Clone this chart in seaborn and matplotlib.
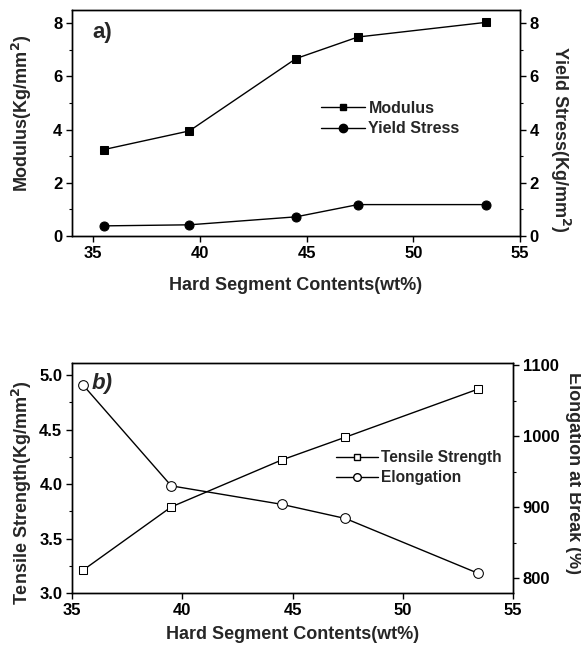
import matplotlib
matplotlib.use("Agg")
import matplotlib.pyplot as plt
import seaborn as sns
import pandas as pd
from matplotlib.ticker import MultipleLocator, FormatStrFormatter
from matplotlib.lines import Line2D

sns.set_theme(style="ticks")
plt.rcParams['font.family'] = ['Liberation Sans', 'DejaVu Sans']
plt.rcParams['font.weight'] = 'bold'
plt.rcParams['axes.labelweight'] = 'bold'

hard_segment = [35.5, 39.5, 44.5, 47.4, 53.4]
modulus = [3.25, 3.95, 6.67, 7.48, 8.03]
yield_stress = [0.38, 0.42, 0.72, 1.18, 1.18]
tensile = [3.21, 3.79, 4.22, 4.43, 4.87]
elongation = [1072, 930, 904, 884, 807]

df = pd.DataFrame({"x": hard_segment, "modulus": modulus, "yield": yield_stress,
                   "tensile": tensile, "elong": elongation})

fig = plt.figure(figsize=(5.81, 6.46), dpi=100)
ax1 = fig.add_axes([0.124, 0.6347, 0.771, 0.350])
ax1r = ax1.twinx()
ax2 = fig.add_axes([0.124, 0.082, 0.759, 0.356])
ax2r = ax2.twinx()

lw = 1.0
tfs = 12
lfs = 13

def style(ax):
    for s in ax.spines.values():
        s.set_visible(True)
        s.set_color('black')
        s.set_linewidth(1.0)
    ax.tick_params(axis='both', which='major', direction='out', length=4, width=1,
                   labelsize=tfs, colors='black', pad=3)
    ax.tick_params(axis='both', which='minor', direction='out', length=2, width=0.8,
                   colors='black')
    for lab in ax.get_xticklabels() + ax.get_yticklabels():
        lab.set_fontweight('bold')

# Panel a
sns.lineplot(data=df, x="x", y="modulus", ax=ax1, color='black', lw=lw,
             marker='s', markersize=6, markeredgecolor='black', markerfacecolor='black')
sns.lineplot(data=df, x="x", y="yield", ax=ax1r, color='black', lw=lw,
             marker='o', markersize=6.5, markeredgecolor='black', markerfacecolor='black')
ax1.set_xlim(34, 55)
ax1.set_ylim(0, 8.5)
ax1r.set_ylim(0, 8.5)
ax1.xaxis.set_major_locator(MultipleLocator(5))
ax1.yaxis.set_major_locator(MultipleLocator(2))
ax1.yaxis.set_minor_locator(MultipleLocator(1))
ax1r.yaxis.set_major_locator(MultipleLocator(2))
ax1r.yaxis.set_minor_locator(MultipleLocator(1))
ax1.set_xlabel("Hard Segment Contents(wt%)", fontsize=lfs, fontweight='bold', labelpad=12)
ax1.set_ylabel("Modulus(Kg/mm$^2$)", fontsize=lfs, fontweight='bold', va='center', ha='center')
ax1.yaxis.set_label_coords(-0.112, 0.544)
ax1r.set_ylabel("Yield Stress(Kg/mm$^2$)", fontsize=lfs, fontweight='bold', rotation=-90,
                va='center', ha='center')
ax1r.yaxis.set_label_coords(1.09, 0.43)
ax1.text(0.045, 0.90, "a)", transform=ax1.transAxes, fontsize=16, fontweight='bold',
         ha='left', va='center')
h1 = [Line2D([], [], color='black', lw=lw, marker='s', markersize=5),
      Line2D([], [], color='black', lw=lw, marker='o', markersize=6)]
ax1.legend(h1, ["Modulus", "Yield Stress"], loc='center left', bbox_to_anchor=(0.537, 0.52),
           frameon=False, handlelength=2.8, handletextpad=0.2, labelspacing=0.35,
           borderpad=0, prop={'weight': 'bold', 'size': 11.5})
for a in (ax1, ax1r):
    style(a)

# Panel b
sns.lineplot(data=df, x="x", y="tensile", ax=ax2, color='black', lw=lw,
             marker='s', markersize=6, markeredgecolor='black', markerfacecolor='white')
sns.lineplot(data=df, x="x", y="elong", ax=ax2r, color='black', lw=lw,
             marker='o', markersize=7, markeredgecolor='black', markerfacecolor='white')
ax2.set_xlim(35, 55)
ax2.set_ylim(3.0, 5.11)
ax2r.set_ylim(779, 1103)
ax2.xaxis.set_major_locator(MultipleLocator(5))
ax2.yaxis.set_major_locator(MultipleLocator(0.5))
ax2.yaxis.set_minor_locator(MultipleLocator(0.25))
ax2.yaxis.set_major_formatter(FormatStrFormatter('%.1f'))
ax2r.yaxis.set_major_locator(MultipleLocator(100))
ax2r.yaxis.set_minor_locator(MultipleLocator(50))
ax2.set_xlabel("Hard Segment Contents(wt%)", fontsize=lfs, fontweight='bold', labelpad=6)
ax2.set_ylabel("Tensile Strength(Kg/mm$^2$)", fontsize=lfs, fontweight='bold', va='center', ha='center')
ax2.yaxis.set_label_coords(-0.113, 0.435)
ax2r.set_ylabel("Elongation at Break (%)", fontsize=lfs, fontweight='bold', rotation=-90,
                va='center', ha='center')
ax2r.yaxis.set_label_coords(1.138, 0.52)
ax2.text(0.045, 0.913, "b)", transform=ax2.transAxes, fontsize=16, fontweight='bold',
         ha='left', va='center', style='italic')
h2 = [Line2D([], [], color='black', lw=lw, marker='s', markersize=5, markerfacecolor='white'),
      Line2D([], [], color='black', lw=lw, marker='o', markersize=5.5, markerfacecolor='white')]
ax2.legend(h2, ["Tensile Strength", "Elongation"], loc='center left', bbox_to_anchor=(0.58, 0.545),
           frameon=False, handlelength=2.7, handletextpad=0.2, labelspacing=0.35,
           borderpad=0, prop={'weight': 'bold', 'size': 11.2})
for a in (ax2, ax2r):
    style(a)

fig.savefig("out.png", dpi=100)
